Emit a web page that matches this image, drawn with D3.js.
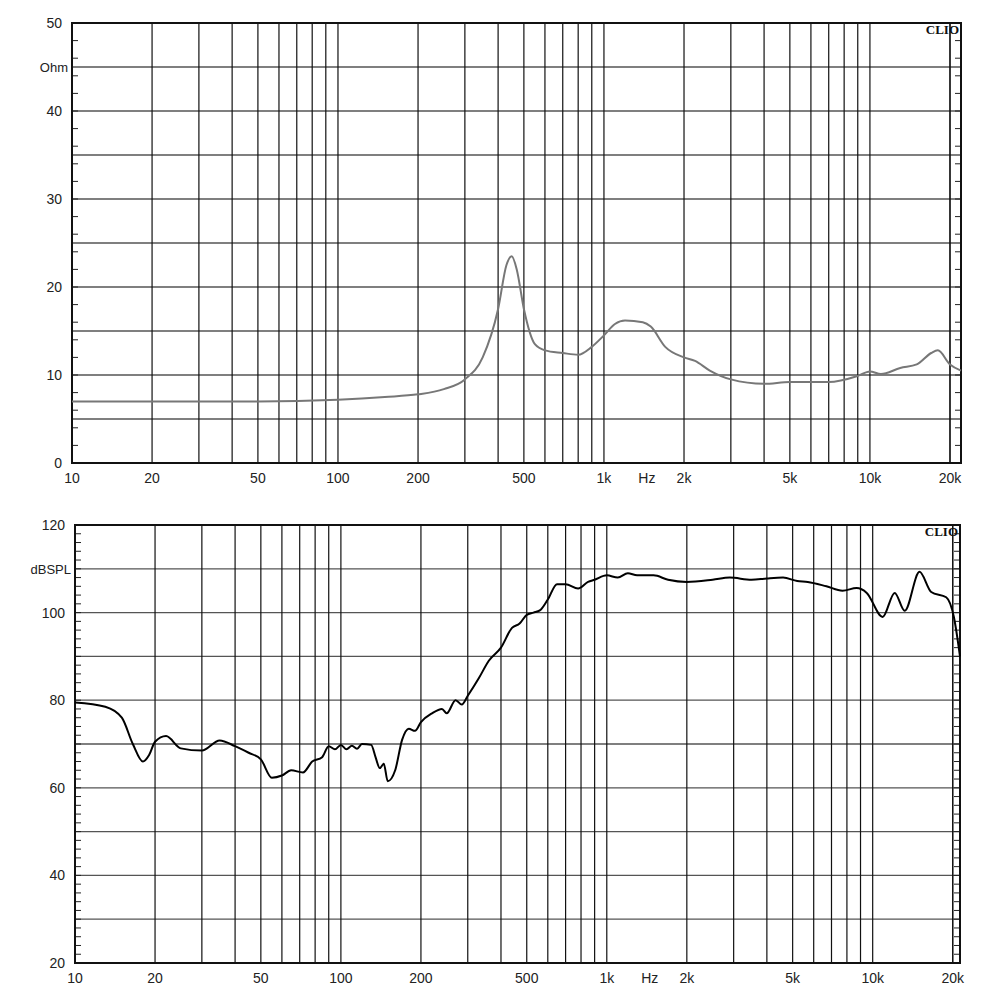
<!DOCTYPE html>
<html>
<head>
<meta charset="utf-8">
<script src="https://cdn.jsdelivr.net/npm/d3@7"></script>
<style>
  body { margin: 0; background: #fff; }
  text { font-family: "Liberation Sans", Arial, sans-serif; }
</style>
</head>
<body>
<svg id="chart" width="1000" height="1000"></svg>
<script>
// ---- data ----
const impFreq = [10, 50, 100, 150, 200, 250, 300, 350, 400, 430, 450, 470, 500, 550, 600, 700, 800, 900, 1000, 1100, 1200, 1400, 1500, 1700, 2000, 2200, 2500, 3000, 4000, 5000, 7000, 9000, 10000, 11000, 13000, 15000, 17000, 18000, 20000, 22000];
const impOhm  = [7.0, 7.0, 7.2, 7.5, 7.8, 8.4, 9.5, 12, 17.5, 22.5, 23.5, 22, 17.5, 13.5, 12.8, 12.5, 12.3, 13.2, 14.5, 15.8, 16.2, 16, 15.5, 13.2, 12, 11.6, 10.5, 9.5, 9.0, 9.2, 9.2, 9.9, 10.4, 10.1, 10.8, 11.2, 12.5, 12.8, 11.2, 10.5];

const splFreq = [10, 13, 15, 16.5, 18, 19, 20, 22, 25, 30, 35, 40, 45, 50, 55, 60, 65, 72, 78, 85, 90, 95, 100, 105, 110, 115, 120, 130, 135, 140, 145, 150, 160, 170, 180, 190, 200, 220, 240, 250, 270, 285, 300, 330, 360, 400, 440, 470, 500, 530, 560, 600, 650, 700, 780, 850, 900, 1000, 1100, 1200, 1300, 1500, 1700, 2000, 2500, 2900, 3500, 4000, 4600, 5200, 5700, 6700, 7700, 8700, 9500, 10900, 12100, 13200, 15000, 16600, 18900, 20200, 21300];
const splDb   = [79.5, 78.5, 76, 70, 66, 67.5, 70.5, 71.8, 69, 68.5, 70.8, 69.5, 68, 66.5, 62.3, 62.8, 64, 63.5, 66, 67, 69.5, 68.8, 69.8, 68.8, 69.6, 68.9, 70, 69.8, 67, 64.5, 65.5, 61.5, 64, 71, 73.5, 73, 75, 77, 78, 77, 80, 79, 81, 85, 89, 92, 96.5, 97.5, 99.5, 100, 100.5, 103, 106.5, 106.5, 105.5, 107, 107.5, 108.5, 108, 109, 108.5, 108.5, 107.5, 107, 107.5, 108, 107.5, 107.8, 108, 107.2, 107, 106, 105, 105.6, 104.5, 99, 104.5, 100.4, 109.3, 104.7, 103.5, 99, 90];

const impTicks = [50, 40, 30, 20, 10, 0];
const splTicks = [120, 100, 80, 60, 40, 20];
const freqLabels = [[10, "10"], [20, "20"], [50, "50"], [100, "100"], [200, "200"], [500, "500"], [1000, "1k"], [2000, "2k"], [5000, "5k"], [10000, "10k"], [20000, "20k"]];

const gridFreqs = [];
[10, 100, 1000, 10000].forEach(d => { for (let k = 1; k < 10; k++) if (d * k < 21000 && d * k > 10) gridFreqs.push(d * k); });
gridFreqs.push(20000);

const svg = d3.select("#chart");

function drawPanel(cfg) {
  const x = d3.scaleLog().domain(cfg.fDomain).range([cfg.left, cfg.right]);
  const y = d3.scaleLinear().domain(cfg.yDomain).range([cfg.bottom, cfg.top]);
  const g = svg.append("g");

  // horizontal grid
  d3.range(cfg.yDomain[0] + cfg.hStep, cfg.yDomain[1], cfg.hStep).forEach(v => {
    g.append("line").attr("x1", cfg.left).attr("x2", cfg.right)
      .attr("y1", y(v)).attr("y2", y(v)).attr("stroke", "#555").attr("stroke-width", 1.3);
  });
  // vertical grid
  gridFreqs.forEach(f => {
    g.append("line").attr("x1", x(f)).attr("x2", x(f))
      .attr("y1", cfg.top).attr("y2", cfg.bottom).attr("stroke", "#111").attr("stroke-width", 1.2);
  });
  // minor ticks left and right
  d3.range(cfg.yDomain[0], cfg.yDomain[1], cfg.minor).forEach(v => {
    g.append("line").attr("x1", cfg.left).attr("x2", cfg.left + 6).attr("y1", y(v)).attr("y2", y(v)).attr("stroke", "#222");
    g.append("line").attr("x1", cfg.right - 6).attr("x2", cfg.right).attr("y1", y(v)).attr("y2", y(v)).attr("stroke", "#222");
  });
  // frame
  g.append("rect").attr("x", cfg.left).attr("y", cfg.top)
    .attr("width", cfg.right - cfg.left).attr("height", cfg.bottom - cfg.top)
    .attr("fill", "none").attr("stroke", "#111").attr("stroke-width", 2);

  // curve
  const line = d3.line().x(d => x(d[0])).y(d => y(d[1])).curve(d3.curveMonotoneX);
  g.append("path").datum(d3.zip(cfg.freq, cfg.vals))
    .attr("d", line).attr("fill", "none")
    .attr("stroke", cfg.color).attr("stroke-width", cfg.width);

  // y labels
  cfg.yTicks.forEach(v => {
    g.append("text").attr("x", cfg.left - 10).attr("y", y(v) + 5)
      .attr("text-anchor", "end").attr("font-size", 14).attr("fill", "#222").text(v);
  });
  g.append("text").attr("x", cfg.left - 4).attr("y", y(cfg.unitAt) + 5)
    .attr("text-anchor", "end").attr("font-size", 13).attr("fill", "#222").text(cfg.unit);

  // x labels
  freqLabels.forEach(([f, t]) => {
    g.append("text").attr("x", x(f)).attr("y", cfg.bottom + 20)
      .attr("text-anchor", "middle").attr("font-size", 14).attr("fill", "#222").text(t);
  });
  g.append("text").attr("x", x(1450)).attr("y", cfg.bottom + 20)
    .attr("text-anchor", "middle").attr("font-size", 14).attr("fill", "#222").text("Hz");

  g.append("text").attr("x", cfg.right - 2).attr("y", cfg.top + 11)
    .attr("text-anchor", "end").attr("font-size", 13).attr("font-weight", "bold")
    .style("font-family", "'Liberation Serif', serif").attr("fill", "#111").text("CLIO");
}

drawPanel({
  left: 72, right: 961, top: 23, bottom: 463,
  fDomain: [10, 22000], yDomain: [0, 50], hStep: 5, minor: 2,
  yTicks: impTicks, unit: "Ohm", unitAt: 45,
  freq: impFreq, vals: impOhm, color: "#777", width: 2
});

drawPanel({
  left: 75, right: 960, top: 525, bottom: 963,
  fDomain: [10, 21300], yDomain: [20, 120], hStep: 10, minor: 2,
  yTicks: splTicks, unit: "dBSPL", unitAt: 110,
  freq: splFreq, vals: splDb, color: "#000", width: 2
});
</script>
</body>
</html>
